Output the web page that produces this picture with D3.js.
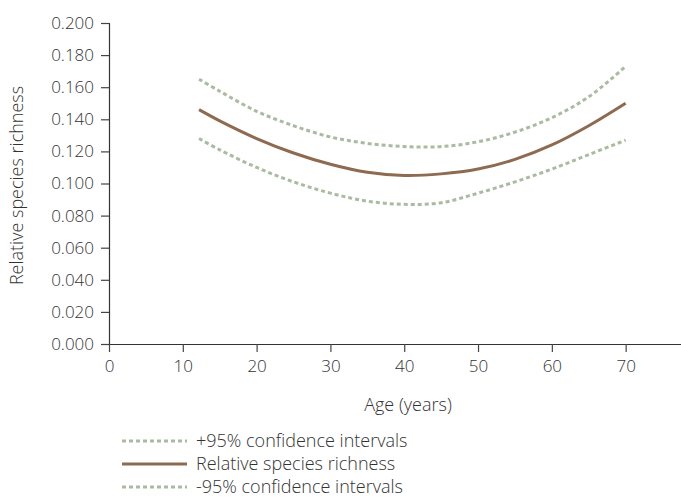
<!DOCTYPE html>
<html>
<head>
<meta charset="utf-8">
<script src="https://cdn.jsdelivr.net/npm/d3@7"></script>
<style>
  html, body { margin: 0; padding: 0; background: #fff; }
  svg { display: block; }
  text { font-family: "Open Sans", "Noto Sans", sans-serif; font-weight: 300; fill: #333; }
</style>
</head>
<body>
<script>
const ages      = [12.2, 15, 20, 25, 30, 35, 40, 45, 50, 55, 60, 65, 70];
const richness  = [0.146, 0.139, 0.128, 0.119, 0.112, 0.107, 0.105, 0.106, 0.109, 0.115, 0.124, 0.136, 0.150];
const upperCI   = [0.165, 0.1575, 0.145, 0.136, 0.129, 0.125, 0.123, 0.123, 0.126, 0.132, 0.141, 0.154, 0.173];
const lowerCI   = [0.128, 0.121, 0.110, 0.101, 0.094, 0.089, 0.087, 0.088, 0.094, 0.101, 0.109, 0.118, 0.127];
const xTicks    = [0, 10, 20, 30, 40, 50, 60, 70];
const yTicks    = [0, 0.02, 0.04, 0.06, 0.08, 0.10, 0.12, 0.14, 0.16, 0.18, 0.20];
const legendLabels = ["+95% confidence intervals", "Relative species richness", "-95% confidence intervals"];

const W = 681, H = 502;
const svg = d3.select("body").append("svg").attr("width", W).attr("height", H);

const x = d3.scaleLinear().domain([0, 77.5]).range([109, 681]);
const y = d3.scaleLinear().domain([0, 0.2]).range([344, 23]);

const green = "#a9bba0", brown = "#8d6a50";

// axes
const xAxis = svg.append("g").attr("transform", `translate(0,${y(0)})`)
  .call(d3.axisBottom(x).tickValues(xTicks).tickSize(8).tickPadding(8).tickFormat(d3.format("d")));
const yAxis = svg.append("g").attr("transform", `translate(${x(0)},0)`)
  .call(d3.axisLeft(y).tickValues(yTicks).tickSize(8).tickPadding(7).tickFormat(d3.format(".3f")));
[xAxis, yAxis].forEach(g => {
  g.select(".domain").attr("stroke", "#333").attr("stroke-width", 1.2);
  g.selectAll(".tick line").attr("stroke", "#444").attr("stroke-width", 1.2);
  g.selectAll(".tick text").attr("font-size", 17).attr("fill", "#333")
    .attr("font-family", "'Open Sans', 'Noto Sans', sans-serif").attr("font-weight", 300);
});
xAxis.select(".domain").attr("d", `M${x(0)},0.5H${W}`);
yAxis.select(".domain").attr("d", `M0.5,${y(0)}V${y(0.2)}`);

// axis titles
svg.append("text").attr("x", 408).attr("y", 411).attr("text-anchor", "middle")
  .attr("font-size", 18).text("Age (years)");
svg.append("text").attr("transform", `translate(23,${(y(0) + y(0.2)) / 2 + 2}) rotate(-90)`)
  .attr("text-anchor", "middle").attr("font-size", 18).text("Relative species richness");

// lines
const line = vals => d3.line().x((d, i) => x(ages[i])).y(d => y(d)).curve(d3.curveCatmullRom)(vals);
svg.append("path").attr("d", line(upperCI)).attr("fill", "none").attr("stroke", green)
  .attr("stroke-width", 3).attr("stroke-dasharray", "4,3");
svg.append("path").attr("d", line(lowerCI)).attr("fill", "none").attr("stroke", green)
  .attr("stroke-width", 3).attr("stroke-dasharray", "4,3");
svg.append("path").attr("d", line(richness)).attr("fill", "none").attr("stroke", brown)
  .attr("stroke-width", 3);

// legend
const lg = svg.append("g");
const rowsY = [441, 464, 487];
legendLabels.forEach((lab, i) => {
  const ln = lg.append("line").attr("x1", 122).attr("x2", 187).attr("y1", rowsY[i]).attr("y2", rowsY[i])
    .attr("stroke", i === 1 ? brown : green).attr("stroke-width", 3);
  if (i !== 1) ln.attr("stroke-dasharray", "4,3");
  lg.append("text").attr("x", 196).attr("y", rowsY[i]).attr("dy", "0.35em")
    .attr("font-size", 18).text(lab);
});
</script>
</body>
</html>
